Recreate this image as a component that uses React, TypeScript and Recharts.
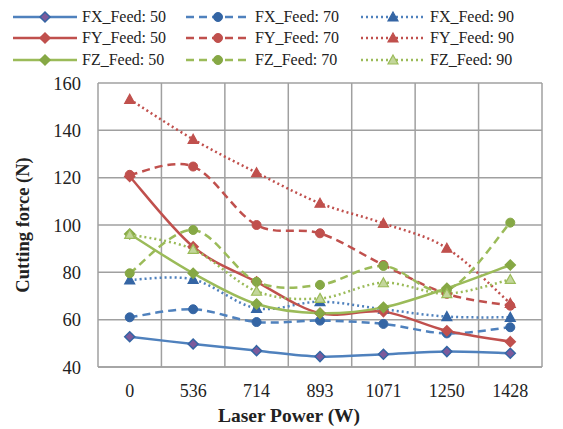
import { LineChart, Line, XAxis, YAxis, CartesianGrid } from "recharts";

const powers = ["0", "536", "714", "893", "1071", "1250", "1428"];
const yTicks = [40, 60, 80, 100, 120, 140, 160];

const fx50 = [52.8, 49.7, 46.9, 44.4, 45.4, 46.5, 45.8];
const fx70 = [61.0, 64.4, 59.0, 59.6, 58.2, 54.2, 56.8];
const fx90 = [76.8, 77.0, 64.8, 67.6, 64.4, 61.3, 61.0];
const fy50 = [120.5, 90.8, 76.0, 62.7, 63.4, 55.3, 50.7];
const fy70 = [121.2, 124.7, 100.0, 96.5, 83.1, 70.9, 65.9];
const fy90 = [153.1, 136.2, 122.1, 109.2, 100.7, 90.2, 66.9];
const fz50 = [96.2, 79.6, 66.6, 62.7, 65.2, 73.3, 83.1];
const fz70 = [79.6, 97.9, 76.0, 74.7, 82.7, 72.5, 101.0];
const fz90 = [96.0, 89.7, 72.0, 69.0, 75.6, 71.0, 77.0];

const BLUE = "#4F81BD";
const RED = "#C0504D";
const GREEN = "#9BBB59";
const FONT = "Liberation Serif, Times New Roman, DejaVu Serif, serif";

const series = [
  { key: "fx50", name: "FX_Feed: 50", values: fx50, color: BLUE, dash: undefined, shape: "diamond", mStroke: "#3465A4", mFill: "#7D5A9B" },
  { key: "fx70", name: "FX_Feed: 70", values: fx70, color: BLUE, dash: "8 5", shape: "circle", mStroke: "#3465A4", mFill: "#3465A4" },
  { key: "fx90", name: "FX_Feed: 90", values: fx90, color: BLUE, dash: "2 3", shape: "triangle", mStroke: "#3465A4", mFill: "#3465A4" },
  { key: "fy50", name: "FY_Feed: 50", values: fy50, color: RED, dash: undefined, shape: "diamond", mStroke: "#C0504D", mFill: "#C0504D" },
  { key: "fy70", name: "FY_Feed: 70", values: fy70, color: RED, dash: "8 5", shape: "circle", mStroke: "#C0504D", mFill: "#C0504D" },
  { key: "fy90", name: "FY_Feed: 90", values: fy90, color: RED, dash: "2 3", shape: "triangle", mStroke: "#C0504D", mFill: "#C0504D" },
  { key: "fz50", name: "FZ_Feed: 50", values: fz50, color: GREEN, dash: undefined, shape: "diamond", mStroke: "#86A845", mFill: "#86A845" },
  { key: "fz70", name: "FZ_Feed: 70", values: fz70, color: GREEN, dash: "8 5", shape: "circle", mStroke: "#86A845", mFill: "#86A845" },
  { key: "fz90", name: "FZ_Feed: 90", values: fz90, color: GREEN, dash: "2 3", shape: "triangle", mStroke: "#9BBB59", mFill: "#C3D69B" },
];

const data = powers.map((p, i) => {
  const row: any = { power: p };
  series.forEach((s) => (row[s.key] = s.values[i]));
  return row;
});

// Excel-like smoothing (Catmull-Rom through the points)
const excelSmooth = (context: any) => {
  let pts: number[][] = [];
  return {
    areaStart() {},
    areaEnd() {},
    lineStart() { pts = []; },
    point(x: number, y: number) { pts.push([+x, +y]); },
    lineEnd() {
      if (!pts.length) return;
      context.moveTo(pts[0][0], pts[0][1]);
      for (let i = 0; i < pts.length - 1; i++) {
        const p0 = pts[i - 1] || pts[i];
        const p1 = pts[i];
        const p2 = pts[i + 1];
        const p3 = pts[i + 2] || p2;
        context.bezierCurveTo(
          p1[0] + (p2[0] - p0[0]) / 6, p1[1] + (p2[1] - p0[1]) / 6,
          p2[0] - (p3[0] - p1[0]) / 6, p2[1] - (p3[1] - p1[1]) / 6,
          p2[0], p2[1]
        );
      }
    },
  };
};

const Marker = ({ cx, cy, shape, stroke, fill }: any) => {
  if (cx == null || cy == null) return null;
  if (shape === "diamond")
    return <polygon points={`${cx},${cy - 5} ${cx + 5},${cy} ${cx},${cy + 5} ${cx - 5},${cy}`} fill={fill} stroke={stroke} strokeWidth={1.5} />;
  if (shape === "circle") return <circle cx={cx} cy={cy} r={4.5} fill={fill} stroke={stroke} strokeWidth={1} />;
  return <polygon points={`${cx},${cy - 5} ${cx + 5},${cy + 4} ${cx - 5},${cy + 4}`} fill={fill} stroke={stroke} strokeWidth={1.2} />;
};

const legendCols = [12, 185, 360];
const legendRows = [17, 38, 60];

export default function App() {
  return (
    <div style={{ position: "relative", width: 563, height: 429, background: "#fff", fontFamily: FONT }}>
      <style>{"body{margin:0}"}</style>
      {series.map((s, i) => (
        <div key={s.key} style={{ position: "absolute", left: legendCols[i % 3], top: legendRows[Math.floor(i / 3)] - 10, height: 20, display: "flex", alignItems: "center", fontSize: 16, color: "#222", whiteSpace: "nowrap" }}>
          <svg width={66} height={14} style={{ marginRight: 4 }}>
            <line x1={1} y1={7} x2={65} y2={7} stroke={s.color} strokeWidth={2.5} strokeDasharray={s.dash} />
            <Marker cx={33} cy={7} shape={s.shape} stroke={s.mStroke} fill={s.mFill} />
          </svg>
          <span>{s.name}</span>
        </div>
      ))}
      <LineChart width={563} height={429} data={data} margin={{ top: 83, right: 21, bottom: 0, left: 0 }}>
        <CartesianGrid
          stroke="#A0A0A0"
          strokeWidth={1.5}
          verticalCoordinatesGenerator={({ offset }: any) =>
            powers.map((_, i) => offset.left + ((i + 1) * offset.width) / powers.length)
          }
        />
        <XAxis
          dataKey="power"
          scale="band"
          height={62}
          stroke="#A0A0A0"
          strokeWidth={1.5}
          tickLine={false}
          tickMargin={11}
          tick={{ fill: "#222", fontSize: 18, fontFamily: FONT }}
          label={{
            content: ({ viewBox }: any) => (
              <text x={viewBox.x + viewBox.width / 2 - 31} y={viewBox.y + 55} textAnchor="middle" fill="#222" fontSize={19.5} fontWeight="bold" fontFamily={FONT}>
                Laser Power (W)
              </text>
            ),
          }}
        />
        <YAxis
          width={98}
          domain={[40, 160]}
          ticks={yTicks}
          stroke="#A0A0A0"
          strokeWidth={1.5}
          tickLine={false}
          tickMargin={11}
          tick={{ fill: "#222", fontSize: 18.5, fontFamily: FONT }}
          label={{
            content: ({ viewBox }: any) => {
              const x = viewBox.x + 23;
              const y = viewBox.y + viewBox.height / 2;
              return (
                <text x={x} y={y} transform={`rotate(-90 ${x} ${y})`} textAnchor="middle" dominantBaseline="central" fill="#222" fontSize={18.5} fontWeight="bold" fontFamily={FONT}>
                  Cutting force (N)
                </text>
              );
            },
          }}
        />
        {series.map((s) => (
          <Line
            key={s.key}
            dataKey={s.key}
            name={s.name}
            type={excelSmooth as any}
            stroke={s.color}
            strokeWidth={2.5}
            strokeDasharray={s.dash}
            dot={(p: any) => <Marker key={`${s.key}-${p.index}`} cx={p.cx} cy={p.cy} shape={s.shape} stroke={s.mStroke} fill={s.mFill} />}
            activeDot={false}
            isAnimationActive={false}
          />
        ))}
      </LineChart>
    </div>
  );
}
